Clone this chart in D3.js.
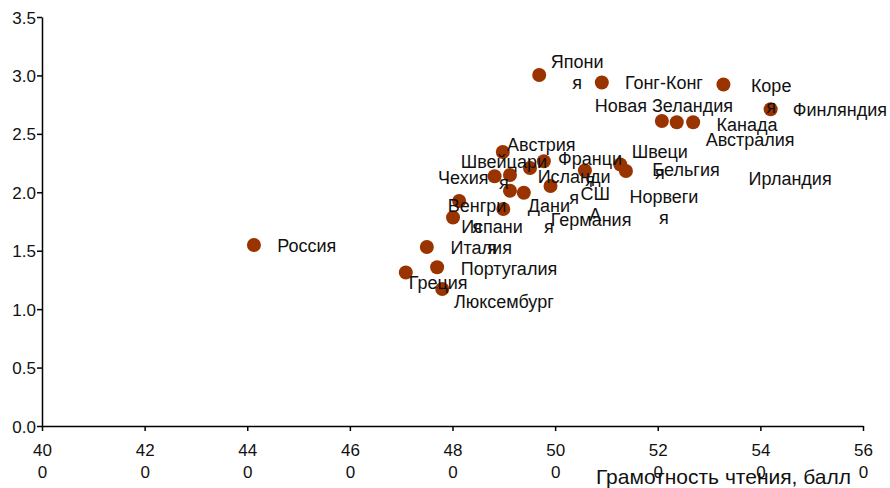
<!DOCTYPE html>
<html>
<head>
<meta charset="utf-8">
<script src="https://cdnjs.cloudflare.com/ajax/libs/d3/7.8.5/d3.min.js"></script>
<style>
  body { margin: 0; background: #fff; }
  svg text { font-family: "Liberation Sans", Arial, sans-serif; fill: #111; }
  .axis path, .axis line { stroke: #000; stroke-width: 1.5; }
  .axis text { font-size: 17px; }
  .label { font-size: 18px; }
  .title { font-size: 21px; }
</style>
</head>
<body>
<div id="chart"></div>
<script>
// countries, point values (score, y value) and where each label sits (data units)
var countries = ['Россия', 'Италия', 'Греция', 'Португалия', 'Люксембург', 'Япония', 'Гонг-Конг', 'Корея',
  'Финляндия', 'Новая Зеландия', 'Канада', 'Австралия', 'Австрия', 'Франция', 'Швейцария', 'Чехия',
  'Исландия', 'Дания', 'Германия', 'США', 'Бельгия', 'Швеция', 'Ирландия', 'Венгрия', 'Норвегия', 'Испания'];
var scores = [441.3, 475.0, 470.9, 477.0, 478.0, 496.9, 509.1, 532.8,
  542.0, 520.8, 523.7, 526.9, 489.8, 497.8, 495.1, 488.2,
  491.2, 491.2, 493.9, 499.1, 505.8, 512.7, 513.8, 481.3, 489.9, 480.1];
var values = [1.549, 1.532, 1.314, 1.358, 1.172, 3.004, 2.939, 2.922,
  2.710, 2.610, 2.599, 2.599, 2.345, 2.265, 2.208, 2.137,
  2.148, 2.013, 1.996, 2.054, 2.186, 2.238, 2.182, 1.925, 1.857, 1.784];

// label text as shown (wrapped) and its anchor
var labelLines = [['Россия'], ['Италия'], ['Греция'], ['Португалия'], ['Люксембург'], ['Япони', 'я'], ['Гонг-Конг'], ['Коре', 'я'],
  ['Финляндия'], ['Новая Зеландия'], ['Канада'], ['Австралия'], ['Австрия'], ['Франци', 'я'], ['Швейцари', 'я'], ['Чехия'],
  ['Исланди', 'я'], ['Дани', 'я'], ['Германия'], ['СШ', 'А'], ['Бельгия'], ['Швеци', 'я'], ['Ирландия'], ['Венгри', 'я'], ['Норвеги', 'я'], ['Испани', 'я']];
var labelScore = [451.6, 485.6, 477.2, 491.0, 490.0, 504.3, 521.2, 542.1,
  555.5, 521.2, 537.4, 538.0, 497.3, 506.8, 490.0, 482.1,
  503.7, 498.8, 507.0, 507.8, 525.5, 520.4, 545.8, 484.8, 521.2, 487.7];
var labelValue = [1.489, 1.472, 1.172, 1.292, 1.010, 3.064, 2.884, 2.858,
  2.653, 2.687, 2.524, 2.396, 2.353, 2.233, 2.208, 2.071,
  2.079, 1.831, 1.711, 1.934, 2.139, 2.293, 2.062, 1.831, 1.908, 1.652];

var xTicks = [400, 420, 440, 460, 480, 500, 520, 540, 560];
var yTicks = [0, 0.5, 1.0, 1.5, 2.0, 2.5, 3.0, 3.5];
var xTitle = 'Грамотность чтения, балл';

var width = 890, height = 488;
var lineH = 21;

var svg = d3.select('#chart').append('svg')
  .attr('width', width)
  .attr('height', height);

var x = d3.scaleLinear().domain([400, 560]).range([42, 863]);
var y = d3.scaleLinear().domain([0, 3.5]).range([426, 17]);

//y axis
var yAxis = svg.append('g')
  .attr('class', 'axis')
  .attr('transform', 'translate(42,0)')
  .call(d3.axisLeft(y).tickValues(yTicks).tickFormat(d3.format('.1f')).tickSize(5).tickSizeOuter(0));
yAxis.selectAll('text').attr('x', -6).attr('dy', '0.36em');

//x axis, labels split like the original ("40" / "0")
var xAxis = svg.append('g')
  .attr('class', 'axis')
  .attr('transform', 'translate(0,426)')
  .call(d3.axisBottom(x).tickValues(xTicks).tickSize(5).tickSizeOuter(0));
xAxis.selectAll('text').each(function(d) {
  var s = String(d);
  var t = d3.select(this).text(null).attr('y', 0).attr('dy', null);
  t.append('tspan').attr('x', 0).attr('y', 30).text(s.slice(0, -1));
  t.append('tspan').attr('x', 0).attr('y', 30 + lineH + 1).text(s.slice(-1));
});

//points
svg.append('g').selectAll('circle')
  .data(countries)
  .enter().append('circle')
    .attr('cx', function(d, i) { return x(scores[i]); })
    .attr('cy', function(d, i) { return y(values[i]); })
    .attr('r', 7)
    .attr('fill', '#993300');

//labels
svg.append('g').selectAll('text')
  .data(countries)
  .enter().append('text')
    .attr('class', 'label')
    .attr('text-anchor', 'middle')
    .each(function(d, i) {
      var t = d3.select(this);
      labelLines[i].forEach(function(line, j) {
        t.append('tspan')
          .attr('x', x(labelScore[i]))
          .attr('y', y(labelValue[i]) + j * lineH)
          .text(line);
      });
    });

//axis title
svg.append('text')
  .attr('class', 'title')
  .attr('text-anchor', 'end')
  .attr('x', 851)
  .attr('y', 484)
  .text(xTitle);
</script>
</body>
</html>
